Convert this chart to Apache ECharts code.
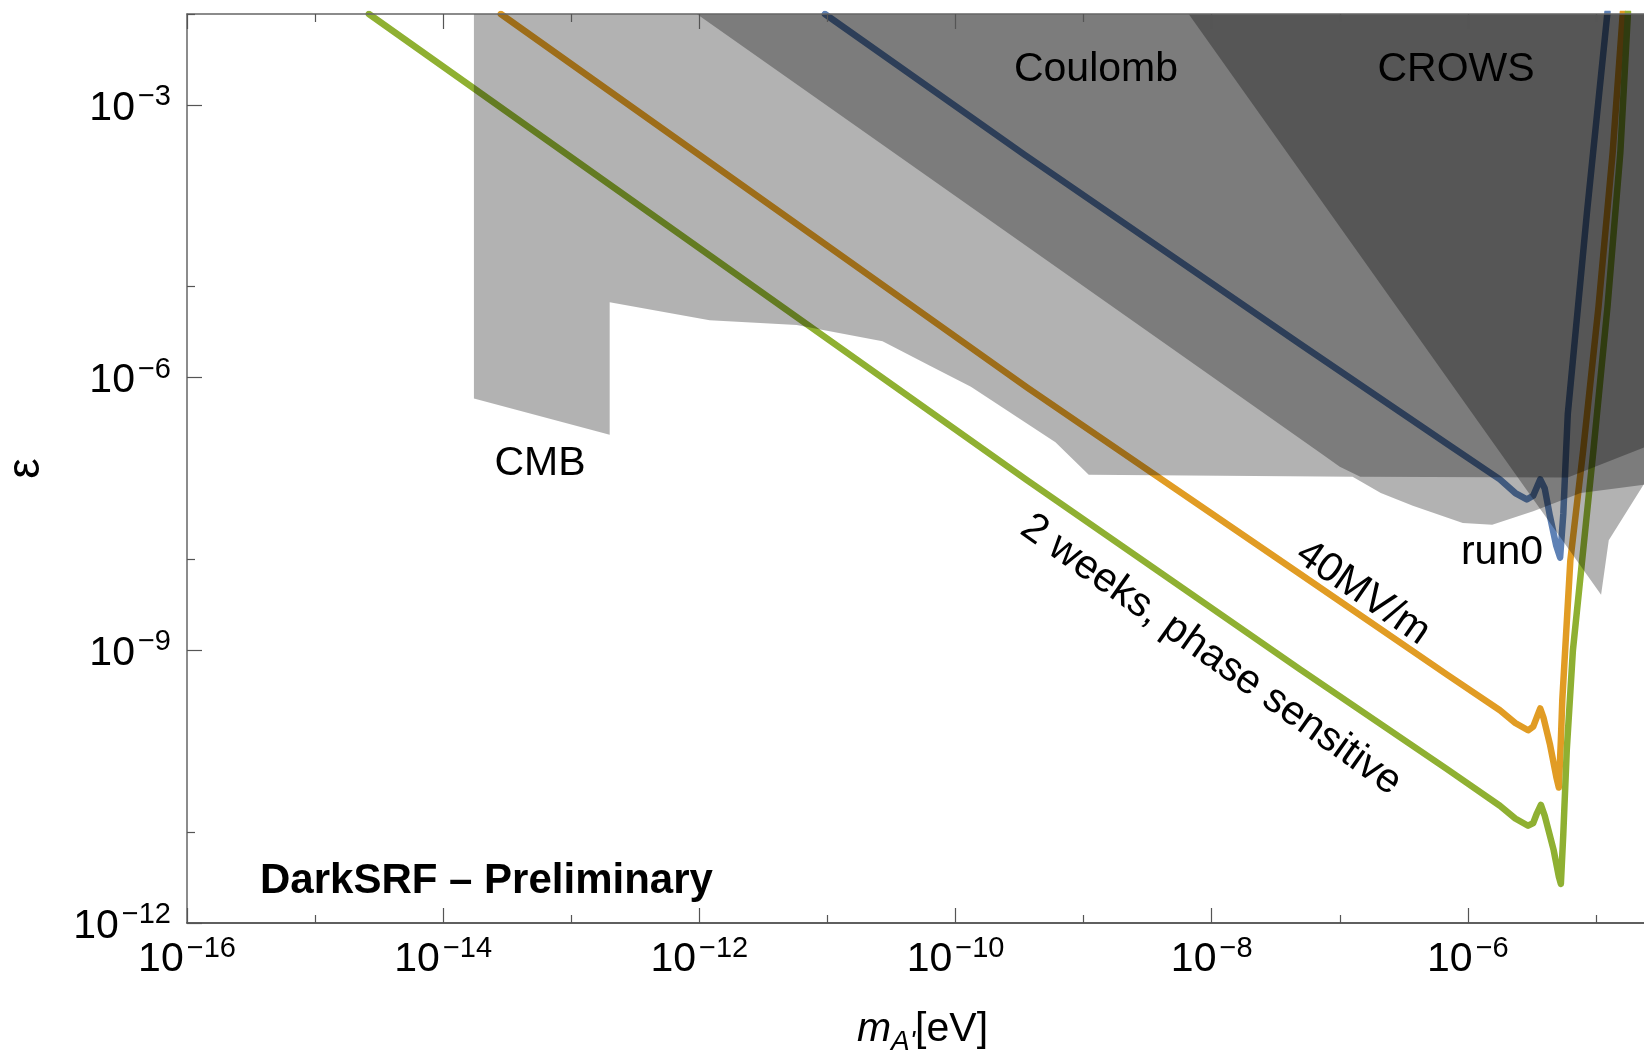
<!DOCTYPE html>
<html lang="en">
<head>
<meta charset="utf-8">
<title>DarkSRF reach</title>
<script src="https://cdn.jsdelivr.net/npm/echarts@6.0.0/dist/echarts.min.js"></script>
<style>
  html, body { margin: 0; padding: 0; background: #ffffff; }
  #chart { width: 1644px; height: 1054px; }
</style>
</head>
<body>
<div id="chart"></div>
<script>
// every point is [log10(m_A' / eV), log10(epsilon)]

// run0 (blue)
const run0 = [
  [-11.02, -2.00], [-9.46, -3.55], [-7.31, -5.63], [-6.16, -6.73], [-5.75, -7.12],
  [-5.63, -7.27], [-5.54, -7.34], [-5.49, -7.30], [-5.46, -7.20], [-5.435, -7.12],
  [-5.40, -7.22], [-5.36, -7.52], [-5.31, -7.85], [-5.28, -7.98], [-5.255, -7.50],
  [-5.24, -7.02], [-5.22, -6.40], [-5.07, -4.18], [-4.91, -1.98]
];
// 40MV/m (orange)
const mv40 = [
  [-13.55, -2.00], [-9.44, -6.11], [-7.31, -8.16], [-6.16, -9.27], [-5.75, -9.66],
  [-5.63, -9.80], [-5.53, -9.88], [-5.49, -9.84], [-5.46, -9.73], [-5.435, -9.64],
  [-5.41, -9.74], [-5.36, -10.03], [-5.31, -10.39], [-5.29, -10.51], [-5.274, -9.99],
  [-5.263, -9.55], [-5.20, -8.01], [-5.10, -6.80], [-4.98, -5.22], [-4.87, -3.53],
  [-4.79, -1.98]
];
// 2 weeks, phase sensitive (green)
const twoWeeks = [
  [-14.58, -2.00], [-9.44, -7.13], [-7.31, -9.21], [-6.16, -10.31], [-5.75, -10.71],
  [-5.63, -10.85], [-5.53, -10.93], [-5.49, -10.90], [-5.46, -10.79], [-5.43, -10.70],
  [-5.40, -10.82], [-5.33, -11.20], [-5.29, -11.49], [-5.274, -11.57], [-5.255, -11.02],
  [-5.228, -10.10], [-5.18, -9.00], [-5.10, -7.90], [-5.02, -6.80], [-4.91, -5.22],
  [-4.81, -3.53], [-4.75, -1.98]
];

// excluded regions (polygon outlines)
const cmb = [
  [-13.76, -2.00], [-4.625, -2.00], [-4.625, -7.18], [-5.12, -7.27], [-5.49, -7.47],
  [-5.81, -7.62], [-6.04, -7.60], [-6.43, -7.41], [-6.68, -7.27], [-6.90, -7.09],
  [-8.96, -7.07], [-9.22, -6.71], [-9.88, -6.10], [-10.20, -5.87], [-10.57, -5.60],
  [-11.24, -5.42], [-11.92, -5.37], [-12.70, -5.17], [-12.70, -6.63], [-13.76, -6.23]
];
const coulomb = [
  [-12.02, -2.00], [-4.625, -2.00], [-4.625, -6.77], [-5.22, -7.10], [-6.84, -7.09],
  [-7.00, -6.98], [-7.14, -6.84]
];
const crows = [
  [-8.18, -2.00], [-4.625, -2.00], [-4.625, -7.17], [-4.90, -7.79], [-4.96, -8.39]
];

// axes (exponents)
const xRange = [-16, -4.625];
const yRange = [-12, -2];
const xMajor = [-16, -14, -12, -10, -8, -6];
const xMinor = [-15, -13, -11, -9, -7, -5];
const yMajor = [-12, -9, -6, -3];
const yMinor = [-11, -8, -5, -2];

const FONT = "'Liberation Sans', Arial, Helvetica, sans-serif";
const pow10 = v => Math.pow(10, v);
const toXY = pts => pts.map(p => [pow10(p[0]), pow10(p[1])]);
const expLabel = v => '{a|10}{b|\u2212' + Math.abs(Math.round(Math.log10(v))) + '}';

const xRich = {
  a: { fontSize: 41, lineHeight: 46, fontFamily: FONT, color: '#000' },
  b: { fontSize: 29, lineHeight: 46, fontFamily: FONT, color: '#000', padding: [0, 0, 22, 3] }
};
const yRich = {
  a: { fontSize: 41, lineHeight: 46, fontFamily: FONT, color: '#000', padding: [7, 0, 0, 0] },
  b: { fontSize: 29, lineHeight: 46, fontFamily: FONT, color: '#000', padding: [0, 0, 16, 3] }
};

const tickAxis = (position, range, ticks, len) => ({
  type: 'log', logBase: 10, position: position,
  min: pow10(range[0]), max: pow10(range[1]),
  z: 10,
  splitLine: { show: false },
  minorTick: { show: false },
  axisLine: { show: false },
  axisTick: {
    show: true, inside: true, length: len,
    customValues: ticks.map(pow10),
    lineStyle: { color: '#555', width: 1.2 }
  },
  axisLabel: { show: false }
});

const bottomAxis = tickAxis('bottom', xRange, xMajor, 15);
bottomAxis.axisLine = { show: true, onZero: false, lineStyle: { color: '#2b2b2b', width: 1.5 } };
bottomAxis.axisLabel = {
  show: true, customValues: xMajor.map(pow10), margin: 14,
  formatter: expLabel, rich: xRich
};
bottomAxis.name = "{m|m}{s|A'}{t|[eV]}";
bottomAxis.nameLocation = 'middle';
bottomAxis.nameGap = 84;
bottomAxis.nameTextStyle = {
  padding: [0, 0, 0, 14],
  rich: {
    m: { fontSize: 41, lineHeight: 46, fontStyle: 'italic', fontFamily: FONT, color: '#000' },
    s: { fontSize: 28, lineHeight: 46, fontStyle: 'italic', fontFamily: FONT, color: '#000', padding: [24, 0, 0, 0] },
    t: { fontSize: 41, lineHeight: 46, fontFamily: FONT, color: '#000' }
  }
};

const topAxis = tickAxis('top', xRange, xMajor, 15);
topAxis.axisLine = { show: true, onZero: false, lineStyle: { color: '#666', width: 1.5 } };

const leftAxis = tickAxis('left', yRange, yMajor, 15);
leftAxis.axisLine = { show: true, onZero: false, lineStyle: { color: '#666', width: 1.5 } };
leftAxis.axisLabel = {
  show: true, customValues: yMajor.map(pow10), margin: 16,
  formatter: expLabel, rich: yRich
};
leftAxis.name = '\u03b5';
leftAxis.nameLocation = 'middle';
leftAxis.nameRotate = 90;
leftAxis.nameGap = 138;
leftAxis.nameTextStyle = { fontSize: 46, fontFamily: FONT, color: '#000' };

const lineSeries = (name, pts, color) => ({
  type: 'line', name: name, xAxisIndex: 0, yAxisIndex: 0,
  data: toXY(pts), showSymbol: false, symbol: 'none', silent: true, clip: true, z: 2,
  lineStyle: { color: color, width: 6.5, cap: 'round', join: 'round' }
});

const regionSeries = (name, verts) => {
  const pts = toXY(verts);
  return {
    type: 'custom', name: name, xAxisIndex: 0, yAxisIndex: 0,
    data: pts, encode: { x: 0, y: 1 }, silent: true, clip: true, z: 4,
    renderItem: (params, api) => {
      if (params.dataIndex !== 0) return null;
      return {
        type: 'polygon',
        shape: { points: pts.map(p => api.coord(p)) },
        style: { fill: 'rgba(0,0,0,0.3)' }
      };
    }
  };
};

const note = (text, x, y, rot, font) => ({
  type: 'text', x: x, y: y, rotation: rot || 0, z: 100, silent: true,
  style: {
    text: text, font: font || ('41px ' + FONT), fill: '#000',
    align: 'center', verticalAlign: 'middle',
    textAlign: 'center', textVerticalAlign: 'middle'
  }
});

const chart = echarts.init(document.getElementById('chart'));
chart.setOption({
  animation: false,
  backgroundColor: '#ffffff',
  grid: { left: 187, top: 14, right: 0, bottom: 131, containLabel: false, outerBoundsMode: 'none' },
  xAxis: [
    bottomAxis,
    tickAxis('bottom', xRange, xMinor, 8),
    topAxis,
    tickAxis('top', xRange, xMinor, 8)
  ],
  yAxis: [
    leftAxis,
    tickAxis('left', yRange, yMinor, 8)
  ],
  series: [
    lineSeries('run0', run0, '#5E81B5'),
    lineSeries('40MV/m', mv40, '#E19C24'),
    lineSeries('2 weeks, phase sensitive', twoWeeks, '#8FB032'),
    regionSeries('CMB', cmb),
    regionSeries('Coulomb', coulomb),
    regionSeries('CROWS', crows)
  ],
  graphic: [
    note('CMB', 540, 464),
    note('Coulomb', 1096, 70),
    note('CROWS', 1456, 70),
    note('run0', 1502, 553),
    note('40MV/m', 1363, 593, -0.604),
    note('2 weeks, phase sensitive', 1211, 655, -0.616),
    {
      type: 'text', x: 260, y: 881, z: 100, silent: true,
      style: {
        text: 'DarkSRF \u2013 Preliminary', font: 'bold 42px ' + FONT, fill: '#000',
        align: 'left', verticalAlign: 'middle', textAlign: 'left', textVerticalAlign: 'middle'
      }
    }
  ]
});
</script>
</body>
</html>
